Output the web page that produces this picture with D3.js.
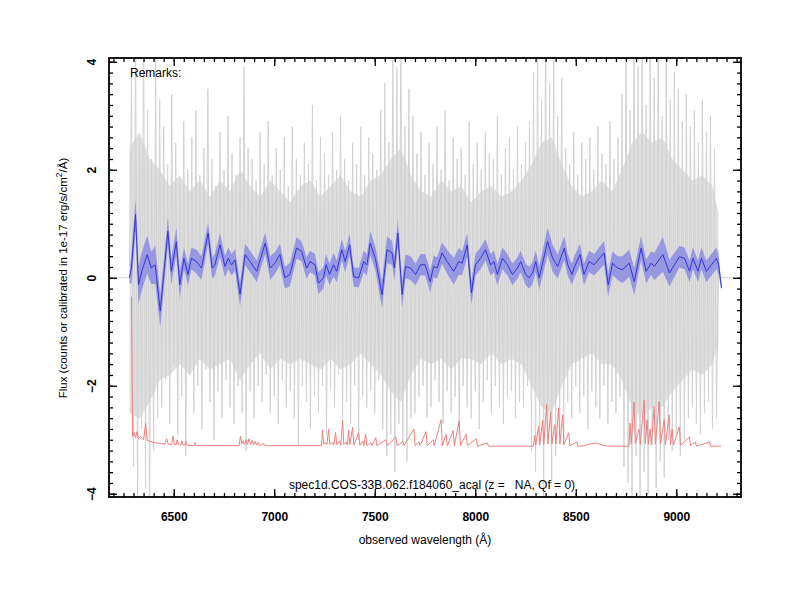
<!DOCTYPE html>
<html><head><meta charset="utf-8">
<script src="https://cdn.jsdelivr.net/npm/d3@7"></script>
<style>body{margin:0;background:#fff}svg{font-family:"Liberation Sans",Arial,sans-serif}</style>
</head><body>
<svg id="c" width="800" height="600"></svg>
<script>
// ---- data ----
const xMajorTicks = [6500, 7000, 7500, 8000, 8500, 9000];
const yMajorTicks = [-4, -2, 0, 2, 4];
const grayStart = 6280, grayStep = 10;
const grayFlux = [
 0.2, 3.8, -3.5, 4.5, -4.2, 2.6, -2.8, 4.8, -3.9, 3.1, -4.5, 2.2, -3.2, 4.1, -2.6, 3.3,
 -2.4, 2.8, -1.9, 2.1, -2.7, 3.4, -1.6, 2.5, -2.9, 1.8, -2.2, 2.9, -3.3, 2.0, -1.8, 2.6, -2.5, 3.1, -2.0, 1.9,
 -2.8, 2.4, -1.7, 3.5, -2.3, 2.2, -3.0, 1.7, -2.1, 2.7, -2.6, 2.0, -1.9, 3.0, -2.4, 2.3, -2.7, 1.9, -2.0, 2.6,
 -2.5, 3.9, -3.2, 2.4, -2.1,
 2.2, -2.6, 1.8, -2.0, 2.7, -2.3, 2.1, -1.8, 2.9, -2.5, 1.9, -2.2, 2.4, -2.7, 2.0, -1.9, 2.6, -2.4, 1.7, -2.1,
 2.8, -2.6, 2.2, -3.1, 1.9, -2.0, 2.5, -2.3, 2.1, -2.8, 3.2, -2.2, 1.8, -2.5, 2.6, -2.0, 2.3, -2.9, 1.9, -2.1,
 2.7, -2.4, 2.0, -1.8, 3.0, -2.6, 2.2, -2.3, 1.8, -2.7, 2.5, -2.0, 2.1, -3.0, 2.8, -2.2, 1.9, -2.4, 2.6, -2.1,
 2.3, -2.5, 2.0, -1.9,
 3.1, -2.8, 3.6, -3.3, 2.5, -2.9, 4.3, -3.6, 3.9, -2.7, 4.6, -3.1, 2.8, -3.4, 3.5, -2.6, 3.0, -2.5,
 2.3, -2.2, 2.7, -2.0, 1.9, -2.6, 2.5, -2.4, 2.1, -1.9, 2.8, -2.3, 2.0, -2.7, 3.1, -2.1, 1.8, -2.5, 2.6, -2.2,
 2.2, -2.9, 2.4, -2.0, 1.9, -2.4, 2.9, -2.6, 2.1, -2.1, 2.5, -2.8, 2.0, -2.3, 2.7, -1.9, 2.3, -2.5, 2.2, -2.0,
 3.0, -2.4, 1.9, -2.7, 2.4, -2.2, 2.6, -2.1, 2.0, -2.6, 2.8, -2.3, 2.1, -2.4, 2.5, -2.0, 2.9,
 -3.2, 3.8, -3.6, 4.4, -3.0, 3.3, -4.1, 4.7, -2.9, 3.6, -3.8, 4.2, -3.3, 3.0, -2.8, 3.7, -3.1,
 2.4, -2.3, 2.1, -2.6, 2.7, -2.0, 1.9, -2.5, 2.5, -2.2, 2.2, -2.8, 2.6, -2.1, 2.0, -2.4, 2.8, -2.6, 2.3, -2.0,
 2.1, -2.7, 2.9, -2.3, 2.2, -2.5, 2.6, -2.2,
 3.4, -3.5, 4.5, -3.8, 3.1, -4.2, 4.8, -3.3, 3.9, -4.4, 4.6, -3.6, 3.2, -4.0, 4.3, -3.1, 3.7, -3.9, 4.5, -3.4,
 3.0, -3.7, 4.1, -3.0, 3.3, -3.2, 3.8, -2.9, 3.5, -3.3, 2.9, -3.0, 3.4,
 -2.6, 2.8, -2.4, 3.1, -2.7, 2.5, -2.9, 3.3, -2.5, 2.7, -2.3, 3.0, -2.8, 2.4, -2.6, 0.3
];
// dense core of the noisy spectrum (upper / lower envelope every 50 Å, last at 9210)
const envWave = [6280,6330,6380,6430,6480,6530,6580,6630,6680,6730,6780,6830,6880,6930,6980,7030,7080,7130,7180,7230,
 7280,7330,7380,7430,7480,7530,7580,7630,7680,7730,7780,7830,7880,7930,7980,8030,8080,8130,8180,8230,
 8280,8330,8380,8430,8480,8530,8580,8630,8680,8730,8780,8830,8880,8930,8980,9030,9080,9130,9180,9210];
const envUpper = [2.4,2.7,2.2,2.0,1.7,1.9,1.6,1.8,1.5,1.8,1.6,2.0,1.7,1.5,1.8,1.6,1.4,1.7,1.8,1.5,
 1.7,1.9,1.6,1.5,1.8,1.9,2.2,2.4,1.9,1.6,1.5,1.8,1.6,1.7,1.4,1.6,1.7,1.5,1.6,1.8,
 2.1,2.5,2.6,2.1,1.7,1.5,1.6,1.8,1.6,2.0,2.5,2.7,2.5,2.6,2.2,2.0,1.8,1.9,1.7,1.2];
const envLower = [-2.5,-2.6,-2.3,-1.9,-1.8,-1.6,-1.8,-1.5,-1.7,-1.6,-1.5,-1.9,-1.6,-1.4,-1.7,-1.5,-1.6,-1.5,-1.6,-1.7,
 -1.5,-1.7,-1.6,-1.4,-1.6,-1.8,-2.1,-2.3,-1.8,-1.5,-1.6,-1.5,-1.7,-1.5,-1.5,-1.6,-1.4,-1.6,-1.5,-1.6,
 -2.0,-2.4,-2.5,-2.0,-1.6,-1.5,-1.4,-1.6,-1.6,-1.9,-2.4,-2.6,-2.4,-2.4,-2.1,-1.9,-1.7,-1.8,-1.6,-1.2];
const zeroPads = [[6182, 6280], [9222, 9292]];

const blueWave = [6280,6290,6310,6325,6341,6368,6388,6408,6433,6471,6488,6513,6530,6551,6571,6588,6613,6638,6671,6691,
 6705,6730,6755,6771,6788,6805,6830,6855,6880,6913,6955,6980,7005,7028,7053,7078,7111,7136,7161,7178,
 7203,7220,7245,7258,7275,7295,7311,7336,7353,7375,7395,7420,7445,7461,7478,7503,7536,7561,7586,7598,
 7615,7636,7653,7678,7703,7728,7751,7776,7793,7810,7835,7860,7893,7918,7935,7960,7981,8001,8026,8051,
 8076,8093,8110,8135,8160,8185,8210,8226,8251,8268,8285,8301,8318,8360,8385,8410,8443,8460,8481,8491,
 8521,8541,8566,8591,8641,8661,8683,8708,8733,8766,8791,8825,8850,8875,8891,8933,8966,8991,9016,9041,
 9066,9083,9108,9125,9150,9175,9200,9211,9225];
const blueFlux = [0.00,0.19,1.17,-0.13,0.12,0.43,0.18,0.24,-0.62,0.86,0.12,0.67,-0.13,0.36,0.06,0.36,0.30,0.18,0.83,0.18,
 0.24,0.61,0.21,0.36,0.24,0.33,-0.31,0.43,0.30,0.12,0.64,0.18,0.28,0.43,0.00,0.06,0.55,0.49,0.18,0.30,
 0.24,-0.10,0.00,0.24,0.06,0.24,0.12,0.52,0.30,0.61,0.02,0.00,0.30,0.24,0.64,0.36,-0.31,0.52,0.46,0.18,
 0.83,-0.31,0.21,0.18,0.06,0.24,0.24,-0.07,0.21,0.18,0.46,0.30,0.12,0.30,0.27,0.61,-0.28,0.24,0.36,0.52,
 0.24,0.30,0.06,0.36,0.24,0.06,0.18,0.30,0.06,0.00,0.09,0.30,0.00,0.67,0.36,0.21,0.55,0.24,0.06,0.18,
 0.43,0.06,0.30,0.24,0.46,-0.13,0.27,0.18,0.15,0.27,-0.07,0.55,0.12,0.27,0.21,0.43,0.09,0.24,0.39,0.36,
 0.12,0.36,0.12,0.36,0.12,0.24,0.36,0.24,-0.19];
const blueErr = [0.10,0.30,0.30,0.35,0.35,0.35,0.30,0.35,0.30,0.25,0.25,0.25,0.25,0.20,0.20,0.20,0.22,0.22,0.20,0.20,
 0.20,0.22,0.20,0.20,0.20,0.20,0.22,0.20,0.20,0.20,0.20,0.22,0.20,0.20,0.20,0.22,0.20,0.18,0.20,0.20,
 0.20,0.20,0.20,0.20,0.20,0.22,0.20,0.20,0.20,0.20,0.18,0.18,0.20,0.20,0.22,0.22,0.25,0.25,0.22,0.22,
 0.25,0.25,0.22,0.22,0.20,0.20,0.20,0.20,0.20,0.20,0.20,0.22,0.25,0.25,0.22,0.22,0.22,0.20,0.20,0.20,
 0.20,0.20,0.20,0.20,0.20,0.20,0.20,0.20,0.20,0.20,0.20,0.20,0.22,0.25,0.25,0.22,0.22,0.20,0.20,0.20,
 0.20,0.20,0.20,0.20,0.22,0.22,0.22,0.22,0.25,0.25,0.25,0.22,0.22,0.22,0.25,0.32,0.25,0.22,0.20,0.20,
 0.20,0.20,0.20,0.20,0.20,0.20,0.20,0.20,0.05];

const redWave = [6290,6295,6302,6310,6317,6325,6335,6350,6360,6368,6400,6455,6465,6472,6490,6497,6504,6512,6517,6523,
 6536,6541,6547,6555,6560,6566,6600,6605,6611,6825,6832,6838,6845,6852,6860,6867,6875,6882,6890,6897,
 6905,6912,6920,6927,6948,6954,7235,7240,7246,7256,7262,7270,7276,7290,7296,7305,7311,7325,7331,7340,
 7346,7358,7364,7370,7376,7390,7396,7420,7426,7440,7446,7455,7461,7480,7486,7505,7511,7555,7561,7605,
 7611,7640,7646,7695,7701,7720,7726,7755,7761,7790,7796,7830,7836,7855,7861,7890,7896,7920,7926,7955,
 7961,8005,8011,8060,8066,8290,8295,8301,8315,8321,8335,8341,8355,8361,8375,8381,8395,8401,8415,8421,
 8435,8441,8465,8471,8505,8511,8545,8570,8600,8625,8660,8765,8770,8776,8790,8796,8815,8821,8840,8846,
 8855,8861,8870,8876,8890,8896,8915,8921,8940,8946,8965,8971,8980,8986,9015,9021,9065,9071,9095,9101,
 9165,9171,9222];
const redFlux = [-0.35,-2.94,-2.87,-2.96,-2.85,-2.98,-2.94,-3.00,-2.70,-3.01,-3.05,-3.08,-2.98,-3.08,-3.09,-2.93,-3.09,-3.09,-3.00,-3.09,
 -3.10,-3.02,-3.10,-3.10,-3.03,-3.10,-3.11,-3.05,-3.11,-3.11,-2.93,-3.08,-3.02,-3.09,-3.00,-3.09,-2.98,-3.09,-3.01,-3.10,
 -3.03,-3.10,-3.05,-3.11,-3.07,-3.11,-3.11,-2.82,-3.08,-3.05,-3.09,-2.80,-3.09,-3.05,-3.10,-2.86,-3.09,-3.02,-3.10,-2.64,
 -3.09,-3.04,-3.10,-2.82,-3.09,-2.77,-3.10,-2.87,-3.10,-3.03,-3.11,-2.90,-3.11,-3.05,-3.11,-2.96,-3.11,-3.00,-3.11,-2.95,
 -3.11,-3.03,-3.11,-2.80,-3.11,-3.04,-3.11,-2.85,-3.11,-3.00,-3.11,-2.63,-3.11,-2.90,-3.11,-2.83,-3.11,-2.65,-3.11,-2.90,
 -3.11,-2.98,-3.12,-3.06,-3.12,-3.12,-2.92,-3.10,-2.75,-3.10,-2.64,-3.09,-2.35,-3.08,-2.48,-3.08,-2.72,-3.08,-2.41,-3.08,
 -2.54,-3.09,-2.87,-3.11,-3.04,-3.12,-3.11,-3.08,-3.06,-3.09,-3.12,-3.12,-2.69,-3.08,-2.30,-3.07,-2.80,-3.09,-2.26,-3.07,
 -2.63,-3.09,-2.80,-3.09,-2.39,-3.08,-2.29,-3.08,-2.63,-3.09,-2.54,-3.09,-2.80,-3.10,-2.76,-3.10,-2.95,-3.11,-3.04,-3.12,
 -3.04,-3.12,-3.12];

const remarksText = "Remarks:";
const specLabel = "spec1d.COS-33B.062.f184060_acal (z =   NA, Qf = 0)";
const xTitle = "observed wavelength (Å)";

// ---- chart ----
const svg = d3.select("#c");
const L = 109, R = 741, T = 58, B = 497;
const x = d3.scaleLinear().domain([6178, 9322]).range([L, R]);
const y = d3.scaleLinear().domain([-4.06, 4.07]).range([B, T]);

svg.append("defs").append("clipPath").attr("id", "clip")
  .append("rect").attr("x", L).attr("y", T).attr("width", R - L).attr("height", B - T);
const plot = svg.append("g").attr("clip-path", "url(#clip)");

const line = d3.line().x(d => x(d[0])).y(d => y(d[1]));

zeroPads.forEach(p => {
  plot.append("path").attr("d", line([[p[0], 0], [p[1], 0]]))
    .attr("fill", "none").attr("stroke", "#d3d3d3").attr("stroke-width", 1);
});
const envData = envWave.map((w, i) => ({w, lo: envLower[i], hi: envUpper[i]}));
plot.append("path")
  .attr("d", d3.area().x(d => x(d.w)).y0(d => y(d.lo)).y1(d => y(d.hi))(envData))
  .attr("fill", "#e0e0e0").attr("stroke", "none");
const grayData = grayFlux.map((v, i) => [grayStart + i * grayStep, v]);
plot.append("path").attr("d", line(grayData))
  .attr("fill", "none").attr("stroke", "#d2d2d2").attr("stroke-width", 1);

const redData = redWave.map((w, i) => [w, redFlux[i]]);
plot.append("path").attr("d", line(redData))
  .attr("fill", "none").attr("stroke", "#f08080").attr("stroke-width", 1);

const blueData = blueWave.map((w, i) => ({w, f: blueFlux[i], e: blueErr[i]}));
const area = d3.area().x(d => x(d.w)).y0(d => y(d.f - d.e)).y1(d => y(d.f + d.e));
plot.append("path").attr("d", area(blueData))
  .attr("fill", "#6a6ae8").attr("fill-opacity", 0.6).attr("stroke", "none");
plot.append("path").attr("d", d3.line().x(d => x(d.w)).y(d => y(d.f))(blueData))
  .attr("fill", "none").attr("stroke", "#3535dc").attr("stroke-width", 1);

// axes
const xMinor = d3.range(6200, 9321, 50);
const yMinor = d3.range(-40, 41, 2).map(v => v / 10);
function styleAxis(g) {
  g.select(".domain").remove();
  g.selectAll(".tick line").attr("stroke", "#000").attr("stroke-width", 1.3);
}
svg.append("g").attr("transform", `translate(0,${B})`)
  .call(d3.axisBottom(x).tickValues(xMinor).tickSize(-4).tickFormat("")).call(styleAxis);
svg.append("g").attr("transform", `translate(0,${T})`)
  .call(d3.axisTop(x).tickValues(xMinor).tickSize(-4).tickFormat("")).call(styleAxis);
svg.append("g").attr("transform", `translate(${L},0)`)
  .call(d3.axisLeft(y).tickValues(yMinor).tickSize(-4).tickFormat("")).call(styleAxis);
svg.append("g").attr("transform", `translate(${R},0)`)
  .call(d3.axisRight(y).tickValues(yMinor).tickSize(-4).tickFormat("")).call(styleAxis);

const xb = svg.append("g").attr("transform", `translate(0,${B})`)
  .call(d3.axisBottom(x).tickValues(xMajorTicks).tickSize(-8).tickPadding(15).tickFormat(d3.format("d")))
  .call(styleAxis);
xb.selectAll("text").attr("font-size", 12).attr("font-weight", "bold").attr("fill", "#000")
  .attr("font-family", "Liberation Sans, Arial, sans-serif");
svg.append("g").attr("transform", `translate(0,${T})`)
  .call(d3.axisTop(x).tickValues(xMajorTicks).tickSize(-8).tickFormat("")).call(styleAxis);
const yl = svg.append("g").attr("transform", `translate(${L},0)`)
  .call(d3.axisLeft(y).tickValues(yMajorTicks).tickSize(-8).tickFormat(d3.format("d")))
  .call(styleAxis);
yl.selectAll("text").attr("x", null).attr("dy", "0.35em")
  .attr("transform", "translate(-17,0) rotate(-90)")
  .attr("text-anchor", "middle").attr("font-size", 12).attr("font-weight", "bold").attr("fill", "#000")
  .attr("font-family", "Liberation Sans, Arial, sans-serif");
svg.append("g").attr("transform", `translate(${R},0)`)
  .call(d3.axisRight(y).tickValues(yMajorTicks).tickSize(-8).tickFormat("")).call(styleAxis);

svg.append("rect").attr("x", L).attr("y", T).attr("width", R - L).attr("height", B - T)
  .attr("fill", "none").attr("stroke", "#000").attr("stroke-width", 1.8);

// texts
svg.append("text").attr("x", 130).attr("y", 77).attr("font-size", 12).text(remarksText);
svg.append("text").attr("x", 432).attr("y", 489).attr("font-size", 12).attr("text-anchor", "middle")
  .style("white-space", "pre").text(specLabel);
svg.append("text").attr("x", 425).attr("y", 544).attr("font-size", 12).attr("text-anchor", "middle").text(xTitle);
const yt = svg.append("text").attr("transform", "translate(67,278) rotate(-90)")
  .attr("text-anchor", "middle").attr("font-size", 11.5);
yt.append("tspan").text("Flux (counts or calibrated in 1e-17 erg/s/cm");
yt.append("tspan").attr("dy", -5).attr("font-size", 8.5).text("2");
yt.append("tspan").attr("dy", 5).text("/Å)");
</script>
</body></html>
